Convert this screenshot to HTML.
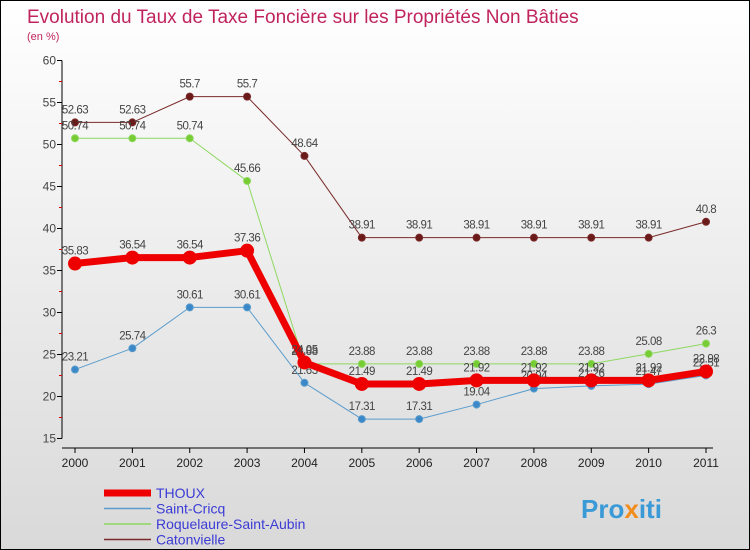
<!DOCTYPE html>
<html><head><meta charset="utf-8"><style>
body{margin:0}
#wrap{width:748px;height:548px;border:1px solid #000;background:linear-gradient(#fff,#d9d9d9);position:relative;overflow:hidden;font-family:"Liberation Sans",sans-serif}
</style></head><body>
<div id="wrap">
<svg id="chart" width="748" height="548">
<text x="26" y="22" font-size="19" fill="#c0245c">Evolution du Taux de Taxe Foncière sur les Propriétés Non Bâties</text>
<text x="26" y="39" font-size="11" fill="#c0245c">(en %)</text>
<text x="580" y="517" font-size="26" font-weight="bold" fill="#3a9ad8">Pro<tspan fill="#f28c1c">x</tspan>iti</text>
</svg>
</div>
<script>
const years=['2000','2001','2002','2003','2004','2005','2006','2007','2008','2009','2010','2011'];
const yTicks=[15,20,25,30,35,40,45,50,55,60];
const thoux=[35.83,36.54,36.54,37.36,24.05,21.49,21.49,21.92,21.92,21.92,21.92,22.98];
const saintCricq=[23.21,25.74,30.61,30.61,21.63,17.31,17.31,19.04,20.94,21.26,21.47,22.51];
const roquelaure=[50.74,50.74,50.74,45.66,23.88,23.88,23.88,23.88,23.88,23.88,25.08,26.3];
const catonvielle=[52.63,52.63,55.7,55.7,48.64,38.91,38.91,38.91,38.91,38.91,38.91,40.8];
const seriesNames=['THOUX','Saint-Cricq','Roquelaure-Saint-Aubin','Catonvielle'];
const NS='http://www.w3.org/2000/svg';
const svg=document.getElementById('chart');
const x0=74,x1=705,yTop=59.5,yBot=437.5,vMin=15,vMax=60;
const xs=i=>x0+(x1-x0)*i/(years.length-1);
const ys=v=>yBot-(v-vMin)*(yBot-yTop)/(vMax-vMin);
function mk(tag,attrs){const e=document.createElementNS(NS,tag);for(const k in attrs)e.setAttribute(k,attrs[k]);svg.appendChild(e);return e;}
let ax=mk('line',{x1:61,y1:yTop,x2:61,y2:yBot,stroke:'#000'});


yTicks.forEach(v=>{
  const l=mk('line',{x1:56,x2:61,y1:ys(v),y2:ys(v),stroke:'#000'});
  
  
  const t=mk('text',{x:55,y:ys(v)+4,'font-size':12,'text-anchor':'end',fill:'#444'});t.textContent=v;
  
  
  if(v<60){const m=mk('line',{x1:58,x2:61,y1:ys(v+2.5),y2:ys(v+2.5),stroke:'#d00'});
  
  }
});
let xa=mk('line',{x1:61,y1:447,x2:712,y2:447,stroke:'#000'});


years.forEach((y,i)=>{
  const l=mk('line',{x1:xs(i),x2:xs(i),y1:447,y2:452,stroke:'#000'});
  
  
  const t=mk('text',{x:xs(i),y:466,'font-size':12,'text-anchor':'middle',fill:'#222'});t.textContent=y;
  
  
});
function series(data,color,w,r,name,dotFill){
  const p=mk('polyline',{points:data.map((v,i)=>xs(i)+','+ys(v)).join(' '),fill:'none',stroke:color,'stroke-width':w,'stroke-linejoin':'round'});
  
  
  data.forEach((v,i)=>{
    const c=mk('circle',{cx:xs(i),cy:ys(v),r:r,fill:dotFill,stroke:color,'stroke-width':1});
    
    
    const t=mk('text',{x:xs(i),y:ys(v)-9,'font-size':11.5,'text-anchor':'middle',fill:'#444','letter-spacing':'-0.5'});t.textContent=v;
    
    
  });
}
series(catonvielle,'#7a2a2a',1,3.5,'catonvielle','#6b1a1a');
series(roquelaure,'#8ed860',1,3.5,'roquelaure','#77cc33');
series(saintCricq,'#5a9ccc',1,3.5,'saint-cricq','#3a88c8');
series(thoux,'#ee0000',7,6.5,'thoux','#ee0000');
const legColors=['#ee0000','#5a9ccc','#8ed860','#7a2a2a'];
const legW=[7,1.5,1.5,1.5];
seriesNames.forEach((n,i)=>{
  const y=492+i*15.5;
  const l=mk('line',{x1:103,x2:150,y1:y,y2:y,stroke:legColors[i],'stroke-width':legW[i]});
  
  
  const t=mk('text',{x:155,y:y+5,'font-size':14,fill:'#3b3bd6'});t.textContent=n;
  
  
});
</script>
</body></html>
